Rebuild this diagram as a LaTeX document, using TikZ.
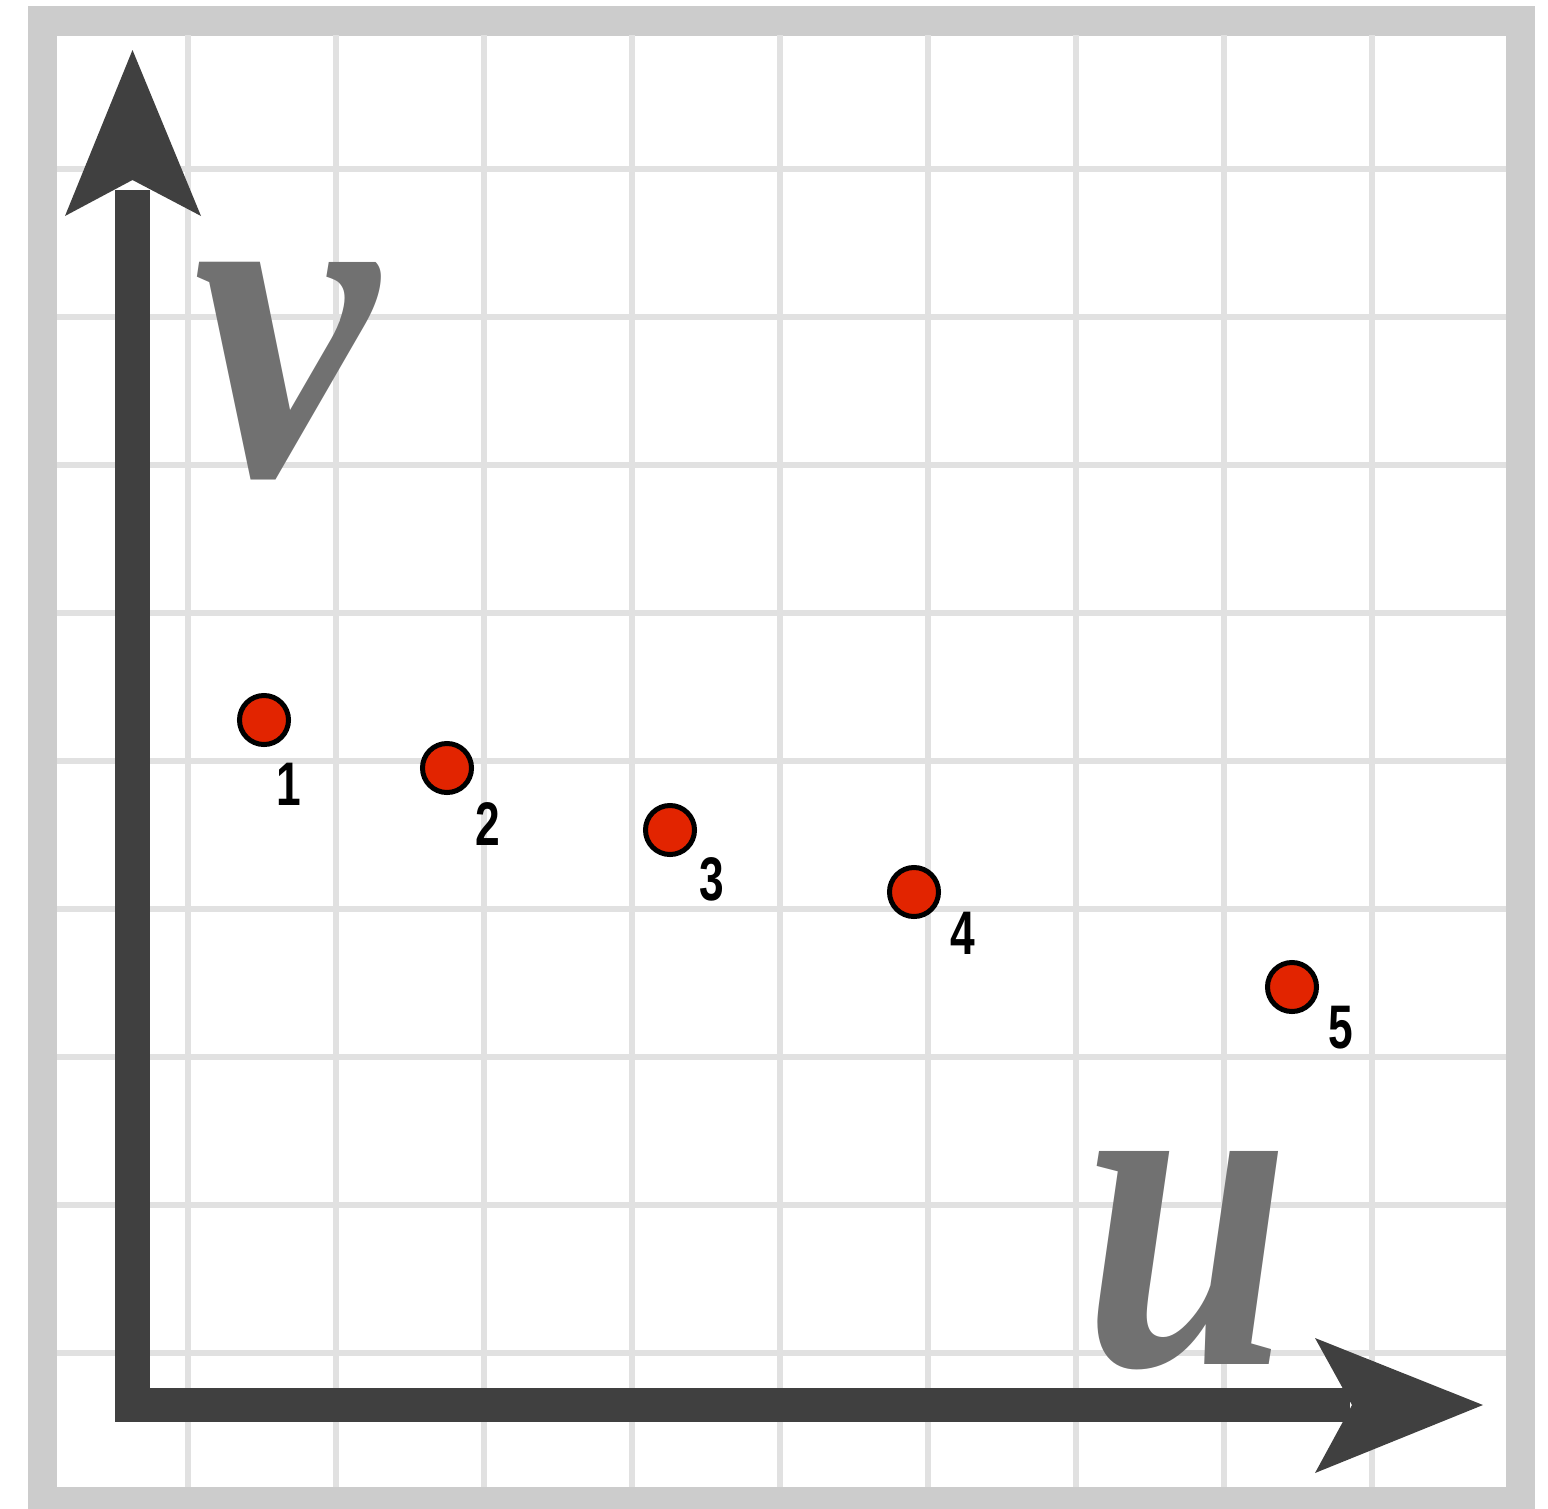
\documentclass[tikz,border=0pt]{standalone}
\usepackage{amsmath}
\usepackage{fontspec}
\usepackage{xcolor}
\usepackage{tikz}
\newfontfamily\digitfont{Liberation Sans}
\newfontfamily\namefont{Liberation Serif}
\definecolor{framegray}{HTML}{CCCCCC}
\definecolor{gridgray}{HTML}{E1E1E1}
\definecolor{axisgray}{HTML}{404040}
\definecolor{lettergray}{HTML}{717171}
\definecolor{pointred}{RGB}{226,36,0}

\begin{document}
\begin{tikzpicture}[x=0.01cm, y=-0.01cm,
    gridline/.style={draw=gridgray, line width=0.06cm},
    axisline/.style={draw=axisgray, line width=0.34cm, line join=miter},
    axishead/.style={fill=axisgray},
    axisname/.style={anchor=base, text=lettergray, inner sep=0pt,
        font=\namefont\bfseries\itshape\fontsize{10}{10}\selectfont, yscale=13.2, transform shape},
    point/.style={circle, draw=black, fill=pointred, line width=0.05cm,
        minimum size=0.49cm, inner sep=0pt},
    pointnum/.style={inner sep=0pt, font=\digitfont\bfseries\fontsize{17.5}{18}\selectfont,
        xscale=0.72, transform shape}]
    \useasboundingbox (0,0) rectangle (1548,1509);

    % Frame
    \draw[framegray, line width=0.29cm] (42.5,21) rectangle (1520.5,1501);

    % Grid
    \foreach \k in {0,...,8} {
        \draw[gridline] (188+148*\k,35) -- (188+148*\k,1487);
        \draw[gridline] (57,169+148*\k) -- (1506,169+148*\k);
    }

    % Axes
    \coordinate (vend) at (132.5,190);
    \coordinate (origin) at (132.5,1405);
    \coordinate (uend) at (1350,1405);
    \draw[axisline] (vend) -- (origin) -- (uend);
    \fill[axishead] (132.5,50) -- (201,216) -- (132.5,180) -- (65,216) -- cycle;
    \fill[axishead] (1483,1405) -- (1315,1338) -- (1352,1405) -- (1315,1473) -- cycle;

    % Axis names
    \node[axisname, xscale=11.8] (vname) at (286,475) {v};
    \node[axisname, xscale=10.6] (uname) at (1187,1364) {u};

    % Samples
    \foreach \i/\px/\py/\lx/\ly in {1/264/720/289/784, 2/447/768/488/824,
        3/670/830/712/879, 4/914/892/963/933, 5/1292/987/1341/1028} {
        \node[point] (p\i) at (\px,\py) {};
        \node[pointnum] (n\i) at (\lx,\ly) {\i};
    }
\end{tikzpicture}
\end{document}
